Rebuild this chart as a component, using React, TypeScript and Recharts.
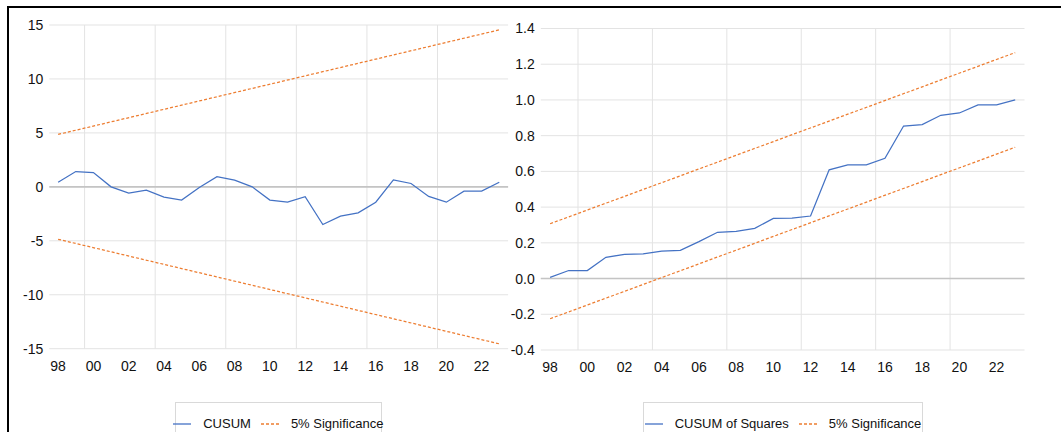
import {
  CartesianGrid,
  Legend,
  Line,
  LineChart,
  ReferenceLine,
  XAxis,
  YAxis,
} from "recharts";

const years = [
  1998, 1999, 2000, 2001, 2002, 2003, 2004, 2005, 2006, 2007, 2008, 2009, 2010,
  2011, 2012, 2013, 2014, 2015, 2016, 2017, 2018, 2019, 2020, 2021, 2022, 2023,
];
const cusum = [
  0.43, 1.42, 1.32, 0.0, -0.58, -0.31, -0.95, -1.23, -0.06, 0.95, 0.62, 0.0,
  -1.23, -1.42, -0.92, -3.49, -2.72, -2.41, -1.42, 0.65, 0.31, -0.89, -1.42,
  -0.4, -0.4, 0.43,
];
const cusumSq = [
  0.007, 0.045, 0.045, 0.119, 0.136, 0.138, 0.154, 0.158, 0.207, 0.259, 0.264,
  0.281, 0.337, 0.339, 0.35, 0.609, 0.636, 0.637, 0.673, 0.854, 0.862, 0.914,
  0.927, 0.972, 0.972, 1.0,
];
// 5% bounds are straight lines: first and last year only
const boundYears = [1998, 2023];
const cusumUpper = [4.86, 14.55];
const cusumLower = [-4.86, -14.55];
const sqUpper = [0.307, 1.265];
const sqLower = [-0.225, 0.735];

const xTicks = [1998, 2000, 2002, 2004, 2006, 2008, 2010, 2012, 2014, 2016, 2018, 2020, 2022];
const gridYears = [1999.5, 2003.5, 2007.5, 2011.5, 2015.5, 2019.5];
const cusumTicks = [-15, -10, -5, 0, 5, 10, 15];
const sqTicks = [-0.4, -0.2, 0, 0.2, 0.4, 0.6, 0.8, 1.0, 1.2, 1.4];

const FONT = '"Liberation Sans", Arial, sans-serif';
const BLUE = "#4472C4";
const ORANGE = "#ED7D31";
const GRID = "#e3e3e3";

const toRows = (xs: number[], ys: number[]) => xs.map((x, i) => ({ year: x, v: ys[i] }));

function LegendBox(props: any) {
  const seen = new Set<string>();
  const items = (props.payload ?? [])
    .filter((p: any) => {
      if (p.type === "none" || seen.has(p.value)) return false;
      seen.add(p.value);
      return true;
    })
    .sort((a: any, b: any) => (a.color === BLUE ? -1 : 0) - (b.color === BLUE ? -1 : 0));
  return (
    <div
      style={{
        border: "1px solid #d9d9d9",
        height: 40,
        boxSizing: "border-box",
        display: "flex",
        justifyContent: "center",
        paddingTop: 5,
        fontFamily: FONT,
        fontSize: 13,
        lineHeight: "20px",
        color: "#111",
        whiteSpace: "nowrap",
      }}
    >
      {items.map((p: any, i: number) => (
        <div key={i} style={{ display: "flex", alignItems: "center", marginLeft: i ? 10 : 0 }}>
          <svg width={18} height={20} style={{ marginRight: 12 }}>
            <line
              x1={0}
              x2={18}
              y1={10}
              y2={10}
              stroke={p.color}
              strokeWidth={1.3}
              strokeDasharray={p.payload?.strokeDasharray}
            />
          </svg>
          <span>{p.value}</span>
        </div>
      ))}
    </div>
  );
}

function Panel({
  left,
  width,
  top,
  bottom,
  right,
  yWidth,
  domain,
  ticks,
  fmt,
  series,
  seriesName,
  upper,
  lower,
  legendLeft,
  legendWidth,
}: {
  left: number;
  width: number;
  top: number;
  bottom: number;
  right: number;
  yWidth: number;
  domain: [number, number];
  ticks: number[];
  fmt: (v: number) => string;
  series: number[];
  seriesName: string;
  upper: number[];
  lower: number[];
  legendLeft: number;
  legendWidth: number;
}) {
  const tick = { fontFamily: FONT, fontSize: 14, fill: "#111" };
  return (
    <div style={{ position: "absolute", left, top: 0 }}>
      <LineChart width={width} height={432} margin={{ top, right, bottom, left: 0 }}>
        <CartesianGrid vertical={false} stroke={GRID} strokeWidth={1} />
        {gridYears.map((g) => (
          <ReferenceLine key={g} x={g} stroke={GRID} strokeWidth={1} />
        ))}
        <ReferenceLine y={0} stroke="#c4c4c4" strokeWidth={1.6} />
        <XAxis
          type="number"
          dataKey="year"
          domain={[1997.5, 2023.5]}
          ticks={xTicks}
          interval={0}
          tickFormatter={(v: number) => String(v).slice(2)}
          axisLine={false}
          tickLine={false}
          tickSize={0}
          tickMargin={12}
          height={30}
          tick={tick}
          allowDataOverflow
        />
        <YAxis
          type="number"
          domain={domain}
          ticks={ticks}
          interval={0}
          tickFormatter={fmt}
          axisLine={false}
          tickLine={false}
          tickSize={0}
          tickMargin={6}
          width={yWidth}
          tick={tick}
        />
        <Line
          data={toRows(years, series)}
          dataKey="v"
          name={seriesName}
          stroke={BLUE}
          strokeWidth={1.25}
          dot={false}
          isAnimationActive={false}
        />
        <Line
          data={toRows(boundYears, upper)}
          dataKey="v"
          name="5% Significance"
          stroke={ORANGE}
          strokeWidth={1.25}
          strokeDasharray="3 2"
          dot={false}
          isAnimationActive={false}
        />
        <Line
          data={toRows(boundYears, lower)}
          dataKey="v"
          name="5% Significance (lower)"
          legendType="none"
          stroke={ORANGE}
          strokeWidth={1.25}
          strokeDasharray="3 2"
          dot={false}
          isAnimationActive={false}
        />
        <Legend
          layout="horizontal"
          verticalAlign="middle"
          align="center"
          content={<LegendBox />}
          wrapperStyle={{ left: legendLeft, top: 401.7, width: legendWidth, height: 40 }}
        />
      </LineChart>
    </div>
  );
}

export default function App() {
  return (
    <div style={{ position: "absolute", left: 0, top: 0, width: 1061, height: 432, background: "#fff", overflow: "hidden" }}>
      <Panel
        left={0}
        width={515}
        top={25}
        bottom={53.3}
        right={6.9}
        yWidth={49.3}
        domain={[-15, 15]}
        ticks={cusumTicks}
        fmt={(v) => String(v)}
        series={cusum}
        seriesName="CUSUM"
        upper={cusumUpper}
        lower={cusumLower}
        legendLeft={174.8}
        legendWidth={207}
      />
      <Panel
        left={505}
        width={556}
        top={28.5}
        bottom={52}
        right={36.5}
        yWidth={35.8}
        domain={[-0.4, 1.4]}
        ticks={sqTicks}
        fmt={(v) => v.toFixed(1)}
        series={cusumSq}
        seriesName="CUSUM of Squares"
        upper={sqUpper}
        lower={sqLower}
        legendLeft={138}
        legendWidth={280}
      />
      <div
        style={{
          position: "absolute",
          left: 7,
          top: 6,
          right: 0,
          bottom: 0,
          borderTop: "2px solid #000",
          borderLeft: "2px solid #000",
          pointerEvents: "none",
        }}
      />
    </div>
  );
}
